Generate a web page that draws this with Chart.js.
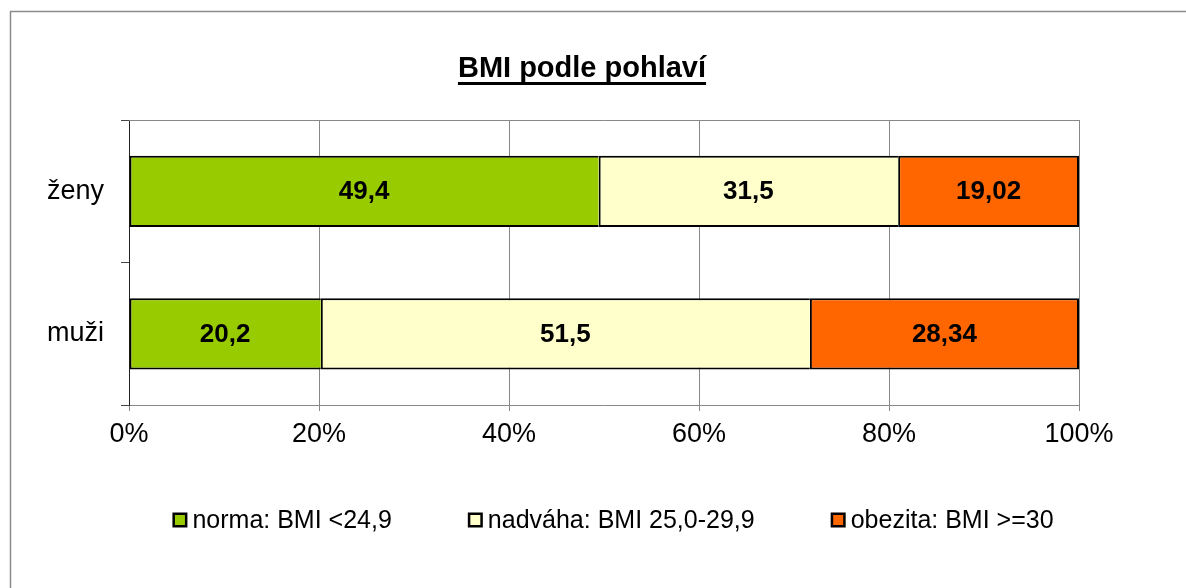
<!DOCTYPE html>
<html>
<head>
<meta charset="utf-8">
<script src="https://cdn.jsdelivr.net/npm/chart.js@4"></script>
<style>
  html, body { margin: 0; padding: 0; background: #fff; }
  #wrap { width: 1186px; height: 588px; position: relative; }
</style>
</head>
<body>
<div id="wrap"><canvas id="c" width="1186" height="588"></canvas></div>
<script>
const chartTitle = 'BMI podle pohlaví';
const categories = ['ženy', 'muži'];
const seriesNames = ['norma: BMI <24,9', 'nadváha: BMI 25,0-29,9', 'obezita: BMI >=30'];
const normaValues = [49.4, 20.2];
const nadvahaValues = [31.5, 51.5];
const obezitaValues = [19.02, 28.34];
const seriesColors = ['#99CC00', '#FFFFCC', '#FF6600'];
const xTickStep = 20;

const rawSeries = [normaValues, nadvahaValues, obezitaValues];
const totals = categories.map((_, i) => rawSeries.reduce((s, arr) => s + arr[i], 0));
const pctSeries = rawSeries.map(arr => arr.map((v, i) => v / totals[i] * 100));

const FONT = "'Liberation Sans', Arial, Helvetica, sans-serif";
Chart.defaults.font.family = FONT;
Chart.defaults.color = '#000';

const borderSpecs = [
  { left: 2, right: 0, top: 2, bottom: 2 },
  { left: 2, right: 0, top: 2, bottom: 2 },
  { left: 2, right: 2, top: 2, bottom: 2 }
];

const decorPlugin = {
  id: 'decor',
  beforeDraw(chart) {
    const ctx = chart.ctx;
    ctx.save();
    ctx.fillStyle = '#fff';
    ctx.fillRect(0, 0, chart.width, chart.height);
    ctx.strokeStyle = '#8c8c8c';
    ctx.lineWidth = 1.5;
    ctx.strokeRect(10.5, 11.5, chart.width + 20, chart.height + 20);
    // title
    ctx.font = 'bold 29px ' + FONT;
    ctx.fillStyle = '#000';
    ctx.textAlign = 'center';
    ctx.textBaseline = 'alphabetic';
    const cx = 582;
    ctx.fillText(chartTitle, cx, 77);
    const w = ctx.measureText(chartTitle).width;
    ctx.fillRect(cx - w / 2, 82, w, 3);
    ctx.restore();
  },
  afterDatasetsDraw(chart) {
    const ctx = chart.ctx;
    const a = chart.chartArea;
    ctx.save();
    // top border of plot area
    ctx.strokeStyle = '#888';
    ctx.lineWidth = 1;
    ctx.beginPath();
    ctx.moveTo(a.left, a.top + 0.5);
    ctx.lineTo(a.right + 0.5, a.top + 0.5);
    ctx.stroke();
    // value labels
    ctx.font = 'bold 26px ' + FONT;
    ctx.fillStyle = '#000';
    ctx.textAlign = 'center';
    ctx.textBaseline = 'middle';
    chart.data.datasets.forEach((ds, di) => {
      const meta = chart.getDatasetMeta(di);
      meta.data.forEach((el, i) => {
        const p = el.getCenterPoint();
        const txt = String(rawSeries[di][i]).replace('.', ',');
        ctx.fillText(txt, p.x, p.y + 1);
      });
    });
    // legend
    ctx.font = '25px ' + FONT;
    ctx.textAlign = 'left';
    const box = 15, gapBox = 5, gapItem = 76;
    const widths = seriesNames.map(n => box + gapBox + ctx.measureText(n).width);
    const total = widths.reduce((s, v) => s + v, 0) + gapItem * (seriesNames.length - 1);
    let x = 613 - total / 2;
    const ly = 520;
    seriesNames.forEach((n, i) => {
      ctx.fillStyle = '#000';
      ctx.fillRect(x, ly - box / 2, box, box);
      ctx.fillStyle = seriesColors[i];
      ctx.fillRect(x + 2.5, ly - box / 2 + 2.5, box - 5, box - 5);
      ctx.fillStyle = '#000';
      ctx.fillText(n, x + box + gapBox, ly + 1);
      x += widths[i] + gapItem;
    });
    ctx.restore();
  }
};

new Chart(document.getElementById('c'), {
  type: 'bar',
  data: {
    labels: categories,
    datasets: seriesNames.map((name, i) => ({
      label: name,
      data: pctSeries[i],
      backgroundColor: seriesColors[i],
      borderColor: '#000',
      borderWidth: borderSpecs[i],
      borderSkipped: false,
      categoryPercentage: 1,
      barPercentage: 0.5
    }))
  },
  options: {
    indexAxis: 'y',
    responsive: false,
    animation: false,
    layout: { padding: { left: 0, top: 120, right: 107, bottom: 123 } },
    plugins: {
      legend: { display: false },
      title: { display: false },
      tooltip: { enabled: false }
    },
    scales: {
      x: {
        stacked: true,
        min: 0,
        max: 100,
        ticks: {
          stepSize: xTickStep,
          callback: v => v + '%',
          font: { size: 27 },
          color: '#000',
          padding: 7,
          maxRotation: 0
        },
        grid: { color: '#888', lineWidth: 1, tickLength: 6, drawTicks: true },
        border: { color: '#888', width: 1 },
        afterFit(s) { s.height = 60; }
      },
      y: {
        stacked: true,
        ticks: { font: { size: 27 }, color: '#000', padding: 17 },
        grid: { drawOnChartArea: false, drawTicks: true, tickLength: 8, color: '#444', offset: true },
        border: { color: '#222', width: 1 },
        afterFit(s) { s.width = 129; }
      }
    }
  },
  plugins: [decorPlugin]
});
</script>
</body>
</html>
